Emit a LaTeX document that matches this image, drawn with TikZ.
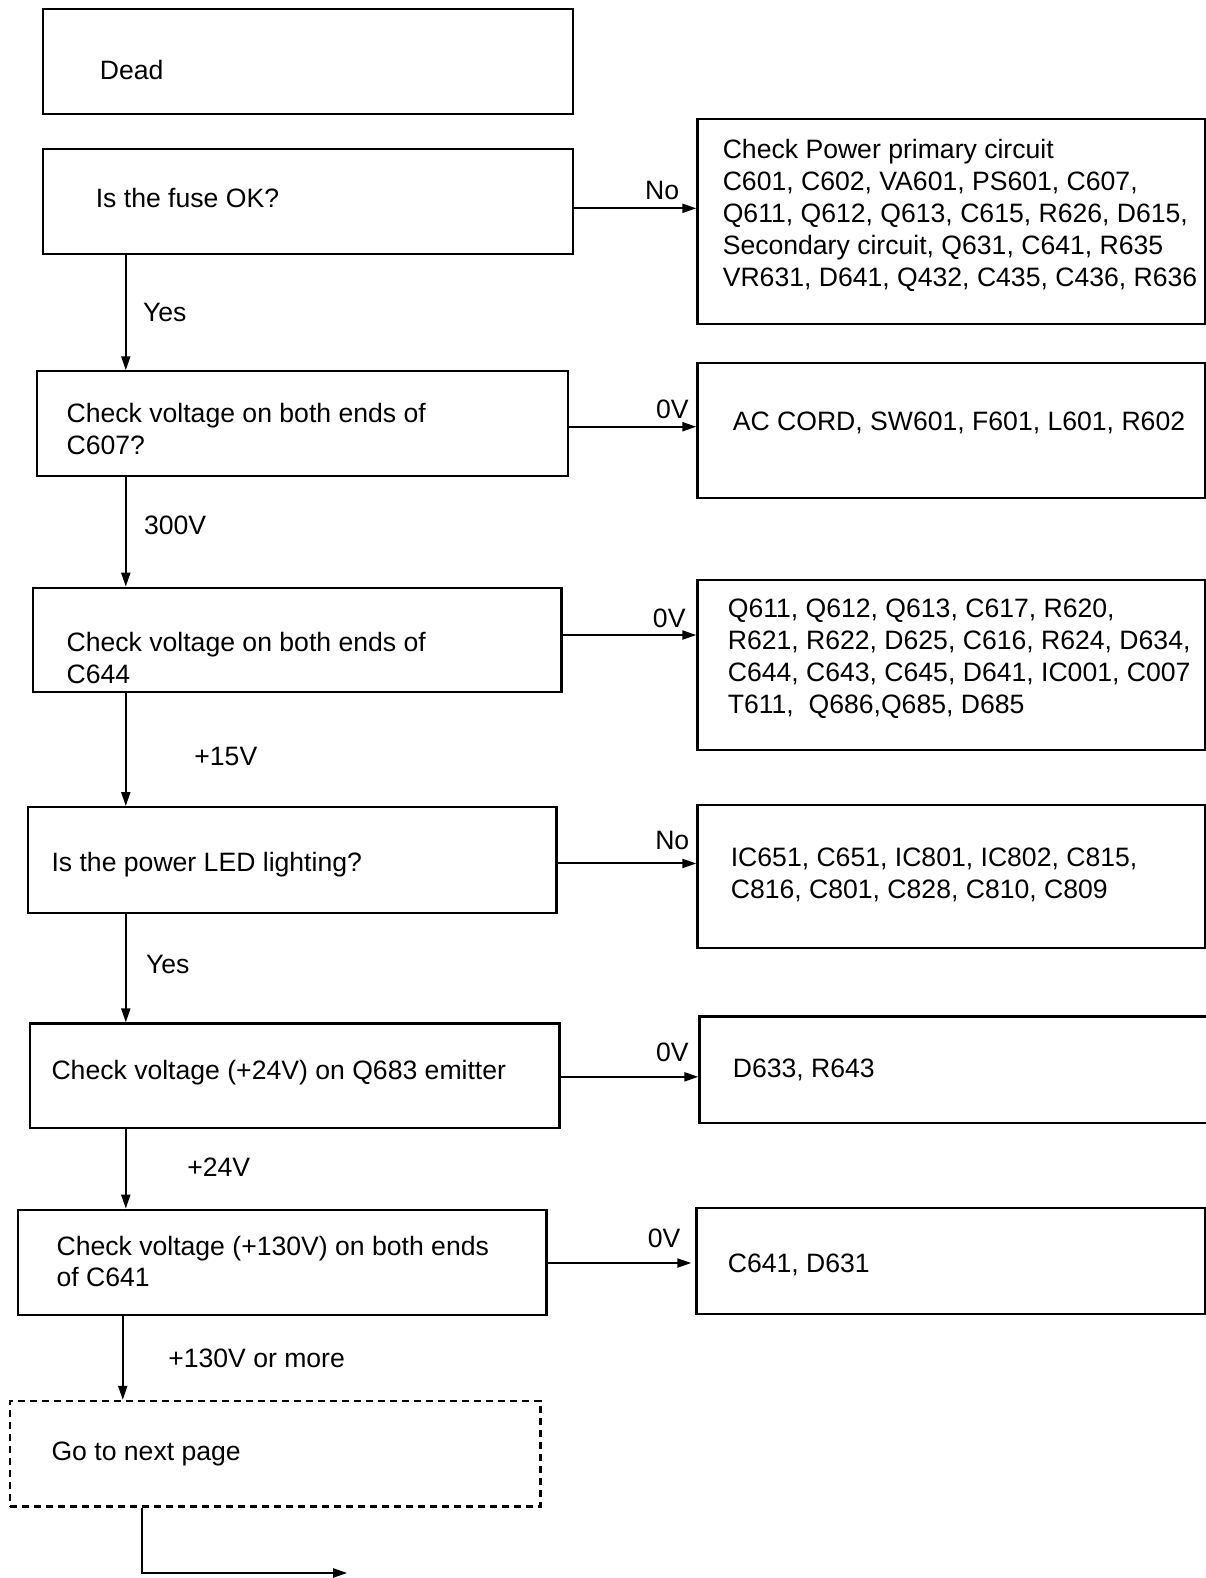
\documentclass[tikz,border=0pt]{standalone}
\usepackage{fontspec}
\setmainfont{Liberation Sans}
\usetikzlibrary{arrows.meta}
\newcommand\myscale{1.00668}
\newcommand\mybox[7][]{\node[box,#1,minimum width={(#4-#2)*\myscale*1pt},minimum height={(#5-#3)*\myscale*1pt}] (#6) at ({(#2+#4)/2},{(#3+#5)/2}) {};}
\tikzset{
  box/.style={draw, rectangle, line width=2.2pt, inner sep=0pt},
  txt/.style={inner sep=0pt, anchor=west, align=left, font=\fontsize{26.6}{32}\selectfont, yshift=-2pt},
  lbl/.style={inner sep=0pt, font=\fontsize{26.6}{32}\selectfont, yshift=-2pt},
  arr/.style={line width=2pt, -{Triangle[length=14pt,width=9pt]}},
}
\begin{document}
\begin{tikzpicture}[x=1.00668pt,y=-1.00668pt]
\useasboundingbox (0,0) rectangle (1198,1568);
% left column boxes
\mybox{43}{9}{569}{113}{dead}{}
\mybox{43}{148}{569}{252}{fuse}{}
\mybox{37}{369}{564}{473}{c607}{}
\mybox{33}{584}{558}{688}{c644}{}
\mybox{28}{802}{553}{907}{led}{}
\mybox{30}{1017}{556}{1121}{q683}{}
\mybox{18}{1202}{543}{1307}{c641}{}
\mybox[dash pattern=on 7pt off 5pt]{10}{1392}{537}{1497}{next}{}
% right column boxes
\mybox{693}{118}{1197}{322}{r1}{}
\mybox{693}{361}{1197}{495}{r2}{}
\mybox{693}{576}{1197}{745}{r3}{}
\mybox{693}{800}{1197}{942}{r4}{}
\mybox{695}{1010}{1203}{1116}{r5}{}
\mybox{692}{1200}{1197}{1306}{r6}{}
% texts
\node[txt] (tdead) at (99,68) {Dead};
\node[txt] (tfuse) at (95,195) {Is the fuse OK?};
\node[txt] (tc607) at (66,424) {Check voltage on both ends of\\C607?};
\node[txt] (tc644) at (66,651.5) {Check voltage on both ends of\\C644};
\node[txt] (tled) at (51,857) {Is the power LED lighting?};
\node[txt] (tq683) at (51,1064) {Check voltage (+24V) on Q683 emitter};
\node[txt] (tc641) at (56,1251.5) {Check voltage (+130V) on both ends\\of C641};
\node[txt] (tnext) at (51,1443) {Go to next page};
\node[txt] (tr1) at (718,212.5) {Check Power primary circuit\\C601, C602, VA601, PS601, C607,\\Q611, Q612, Q613, C615, R626, D615,\\Secondary circuit, Q631, C641, R635\\VR631, D641, Q432, C435, C436, R636};
\node[txt] (tr2) at (728,418) {AC CORD, SW601, F601, L601, R602};
\node[txt] (tr3) at (723,653) {Q611, Q612, Q613, C617, R620,\\R621, R622, D625, C616, R624, D634,\\C644, C643, C645, D641, IC001, C007\\T611,\ \ Q686,Q685, D685};
\node[txt] (tr4) at (726,867.5) {IC651, C651, IC801, IC802, C815,\\C816, C801, C828, C810, C809};
\node[txt] (tr5) at (728,1061) {D633, R643};
\node[txt] (tr6) at (723,1255) {C641, D631};
% helper coordinates
\coordinate (h1) at (0,207);
\coordinate (h2) at (0,424);
\coordinate (h3) at (0,631);
\coordinate (h4) at (0,858);
\coordinate (h5) at (0,1070);
\coordinate (h6) at (0,1255);
\coordinate (v1) at (125,0);
\coordinate (v2) at (122,0);
\coordinate (v3) at (141,0);
\coordinate (end) at (345,1563);
% horizontal arrows
\draw[arr] (fuse.east |- h1) -- (r1.west |- h1);
\draw[arr] (c607.east |- h2) -- (r2.west |- h2);
\draw[arr] (c644.east |- h3) -- (r3.west |- h3);
\draw[arr] (led.east |- h4) -- (r4.west |- h4);
\draw[arr] (q683.east |- h5) -- (r5.west |- h5);
\draw[arr] (c641.east |- h6) -- ([xshift=-4pt]r6.west |- h6);
% vertical arrows
\draw[arr] (fuse.south -| v1) -- (c607.north -| v1);
\draw[arr] (c607.south -| v1) -- (c644.north -| v1);
\draw[arr] (c644.south -| v1) -- (led.north -| v1);
\draw[arr] (led.south -| v1) -- (q683.north -| v1);
\draw[arr] (q683.south -| v1) -- (c641.north -| v1);
\draw[arr] (c641.south -| v2) -- (next.north -| v2);
\draw[arr] (next.south -| v3) |- (end);
% labels
\node[lbl] (l1) at (658,187) {No};
\node[lbl] (l2) at (668,405) {0V};
\node[lbl] (l3) at (665,612) {0V};
\node[lbl] (l4) at (668,833) {No};
\node[lbl] (l5) at (668,1044) {0V};
\node[lbl] (l6) at (660,1228) {0V};
\node[txt] (l7) at (142,309) {Yes};
\node[txt] (l8) at (143,520) {300V};
\node[txt] (l9) at (193,750) {+15V};
\node[txt] (l10) at (145,956) {Yes};
\node[txt] (l11) at (186,1158) {+24V};
\node[txt] (l12) at (167,1348) {+130V or more};
\end{tikzpicture}
\end{document}
